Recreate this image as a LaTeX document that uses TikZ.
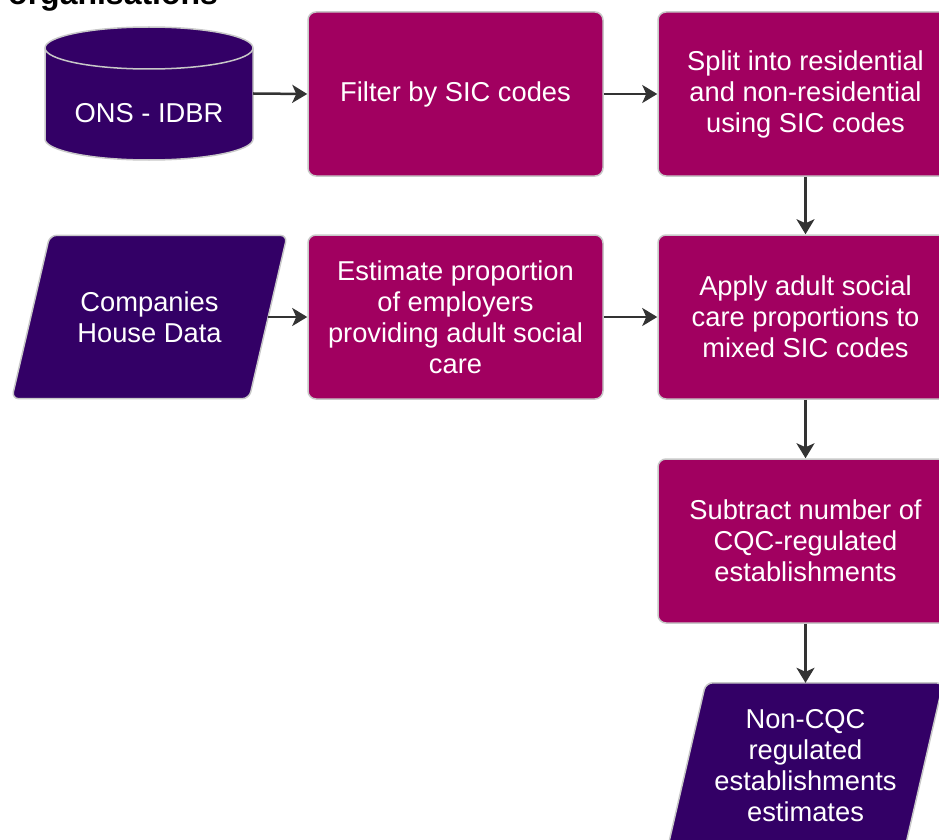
\documentclass[tikz,border=0pt]{standalone}
\usepackage{fontspec}
\setmainfont{Liberation Sans}
\usetikzlibrary{arrows.meta}
\definecolor{boxmag}{RGB}{161,0,96}
\definecolor{boxpur}{RGB}{51,0,102}
\definecolor{edgegray}{RGB}{200,200,200}
\definecolor{arrowgray}{RGB}{51,51,51}
\tikzset{
  procbox/.style={rectangle, rounded corners=8pt, fill=boxmag, draw=edgegray, line width=1.5pt,
    minimum width=295pt, minimum height=164pt, inner sep=0pt, text=white, align=center,
    font=\fontsize{27.3}{31}\selectfont},
  shapeholder/.style={rectangle, draw=none, inner sep=0pt, text=white, align=center,
    font=\fontsize{27.3}{31}\selectfont},
  purfill/.style={fill=boxpur, draw=edgegray, line width=1.5pt},
  flow/.style={draw=arrowgray, line width=2.5pt, -{Stealth[length=15pt,width=18pt,inset=4pt]}}
}
\begin{document}
\begin{tikzpicture}[x=1pt,y=-1pt]
\useasboundingbox (0,0) rectangle (939,840);
\clip (0,0) rectangle (939,840);
% title
\node[anchor=base west, inner sep=0pt, font=\fontsize{32}{36}\selectfont\bfseries] (title) at (8,5) {organisations};
% cylinder
\node[shapeholder, minimum width=208pt, minimum height=133pt] (ons) at (149,93.5) {};
\fill[boxpur] (45,48) -- (45,139) arc[start angle=180, end angle=360, x radius=104, y radius=-21] -- (253,48)
  arc[start angle=0, end angle=180, x radius=104, y radius=-21] -- cycle;
\draw[edgegray, line width=1.5pt] (45,48) -- (45,139) arc[start angle=180, end angle=360, x radius=104, y radius=-21] -- (253,48);
\draw[edgegray, line width=1.5pt] (149,48) ellipse[x radius=104, y radius=21];
\node[shapeholder] (onslabel) at (149,113) {ONS - IDBR};
% process boxes
\node[procbox] (filter) at (455.5,94) {Filter by SIC codes};
\node[procbox] (split) at (805.5,94) {Split into residential\\and non-residential\\using SIC codes};
\node[procbox] (estimate) at (455.5,317) {Estimate proportion\\of employers\\providing adult social\\care};
\node[procbox] (apply) at (805.5,317) {Apply adult social\\care proportions to\\mixed SIC codes};
\node[procbox] (subtract) at (805.5,541) {Subtract number of\\CQC-regulated\\establishments};
% companies house parallelogram
\node[shapeholder, minimum width=237pt, minimum height=163pt] (ch) at (149.5,317) {};
\path[purfill, rounded corners=7pt] ([xshift=-19pt]ch.south west) -- ([xshift=19pt]ch.north west)
  -- ([xshift=19pt]ch.north east) -- ([xshift=-19pt]ch.south east) -- cycle;
\node[shapeholder] (chlabel) at (ch.center) {Companies\\House Data};
% output parallelogram
\node[shapeholder, minimum width=237pt, minimum height=164pt] (out) at (805.5,765) {};
\path[purfill, rounded corners=7pt] ([xshift=-19pt]out.south west) -- ([xshift=19pt]out.north west)
  -- ([xshift=19pt]out.north east) -- ([xshift=-19pt]out.south east) -- cycle;
\node[shapeholder] (outlabel) at ([yshift=-1pt]out.center) {Non-CQC\\regulated\\establishments\\estimates};
% connectors
\draw[flow] (ons.east) -- (filter.west);
\draw[flow] (filter.east) -- (split.west);
\draw[flow] (split.south) -- (apply.north);
\draw[flow] (ch.east) -- (estimate.west);
\draw[flow] (estimate.east) -- (apply.west);
\draw[flow] (apply.south) -- (subtract.north);
\draw[flow] (subtract.south) -- (out.north);
\end{tikzpicture}
\end{document}
